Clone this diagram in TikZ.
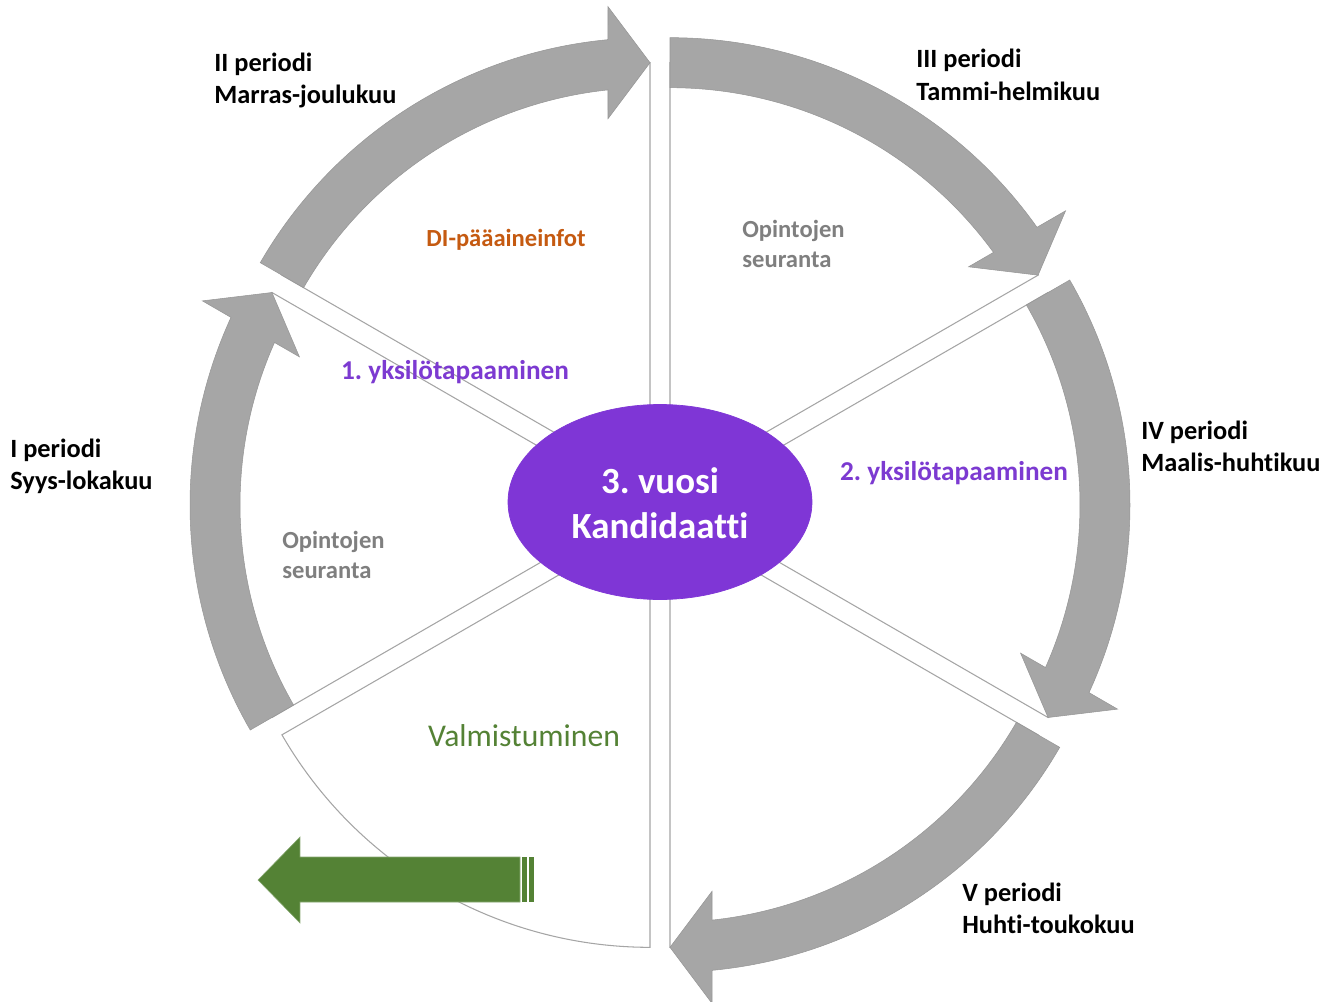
\documentclass[tikz,border=0pt]{standalone}
\usepackage{fontspec}
\setmainfont{Carlito}[Ligatures=NoCommon]
\usetikzlibrary{calc}
\definecolor{violetti}{RGB}{127,54,214}
\definecolor{violettiteksti}{RGB}{124,58,209}
\definecolor{nuoliharmaa}{RGB}{166,166,166}
\definecolor{nuolireuna}{RGB}{150,150,150}
\definecolor{viivaharmaa}{RGB}{165,165,165}
\definecolor{oranssi}{RGB}{197,90,17}
\definecolor{harmaateksti}{RGB}{127,127,127}
\definecolor{vihrea}{RGB}{84,130,53}

\tikzset{
  sektori/.style={draw=viivaharmaa, line width=0.6pt, fill=white},
  nuoli/.style={fill=nuoliharmaa, draw=nuolireuna, line width=0.3pt},
  jakso/.style={font=\bfseries\fontsize{15}{18.5}\selectfont, align=left, anchor=west, inner xsep=0pt},
  seuranta/.style={text=harmaateksti, font=\bfseries\fontsize{14}{17}\selectfont, align=left, anchor=west, inner xsep=0pt},
  tapaaminen/.style={text=violettiteksti, font=\bfseries\fontsize{15.5}{18}\selectfont},
}

% curved period arrow: #1 = shift angle, #2 = tail angle, #3 = tip angle
\newcommand{\kaarinuoli}[3]{%
  \begin{scope}[shift={(#1:20)}]
    \draw[nuoli] (#2:450) arc[start angle=#2, end angle=#3+5.36, radius=450]
      -- ($(#3:481)+(#3+90:42)$) -- (#3:425) -- ($(#3:369)+(#3+90:42)$)
      -- (#3+6.03:400) arc[start angle=#3+6.03, end angle=#2, radius=400] -- cycle;
  \end{scope}}

\begin{document}
\frenchspacing
\begin{tikzpicture}[x=0.02cm, y=0.02cm]
\useasboundingbox (-660,-496) rectangle (674,505);

% sectors
\draw[sektori, shift={(180:20)}] (0,0) -- (210:425) arc[start angle=210, end angle=150, radius=425] -- cycle;
\draw[sektori, shift={(120:20)}] (0,0) -- (150:425) arc[start angle=150, end angle=90, radius=425] -- cycle;
\draw[sektori, shift={(60:20)}] (0,0) -- (90:425) arc[start angle=90, end angle=30, radius=425] -- cycle;
\draw[sektori, shift={(0:20)}] (0,0) -- (30:425) arc[start angle=30, end angle=-30, radius=425] -- cycle;
\draw[sektori, shift={(-60:20)}] (0,0) -- (-30:425) arc[start angle=-30, end angle=-90, radius=425] -- cycle;
\draw[sektori, shift={(-120:20)}] (0,0) -- (-90:425) arc[start angle=-90, end angle=-150, radius=425] -- cycle;

% period arrows
\kaarinuoli{180}{210}{150}
\kaarinuoli{120}{150}{90}
\kaarinuoli{60}{90}{30}
\kaarinuoli{0}{30}{-30}
\kaarinuoli{-60}{-30}{-90}

% centre
\draw[fill=violetti, draw=violetti] (0,3) ellipse (152 and 97.5);
\node[text=white, font=\bfseries\fontsize{21}{25.5}\selectfont, align=center] (vuosi) at (0,2) {3. vuosi\\Kandidaatti};

% period labels
\node[jakso] (p1) at (-650,38.5) {I periodi\\Syys-lokakuu};
\node[jakso] (p2) at (-446,424.5) {II periodi\\Marras-joulukuu};
\node[jakso] (p3) at (256,430) {III periodi\\Tammi-helmikuu};
\node[jakso] (p4) at (481,58.5) {IV periodi\\Maalis-huhtikuu};
\node[jakso] (p5) at (302,-403.5) {V periodi\\Huhti-toukokuu};

% sector texts
\node[text=oranssi, font=\bfseries\fontsize{14}{17}\selectfont] (info) at (-154,265) {DI-pääaineinfot};
\node[seuranta] (seur1) at (82,261) {Opintojen\\seuranta};
\node[seuranta] (seur2) at (-378,-50) {Opintojen\\seuranta};
\node[tapaaminen] (tap1) at (-205,133) {1. yksilötapaaminen};
\node[tapaaminen] (tap2) at (294,32) {2. yksilötapaaminen};
\node[text=vihrea, font=\fontsize{18}{21}\selectfont] (valm) at (-136,-231) {Valmistuminen};

% graduation arrow
\draw[fill=vihrea, draw=vihrea!70!white, line width=0.3pt] (-402,-375) -- (-360,-332) -- (-360,-352) -- (-140,-352)
  -- (-140,-397) -- (-360,-397) -- (-360,-418) -- cycle;
\fill[vihrea] (-138,-352) rectangle (-133,-397);
\fill[vihrea] (-131,-352) rectangle (-126,-397);
\end{tikzpicture}
\end{document}
